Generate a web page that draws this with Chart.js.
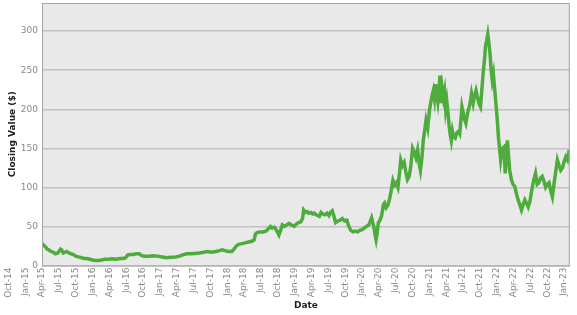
<!DOCTYPE html>
<html>
<head>
<meta charset="utf-8">
<script src="https://cdn.jsdelivr.net/npm/chart.js@4"></script>
<style>
  html, body { margin: 0; padding: 0; background: #fff; }
  #wrap { width: 577px; height: 315px; }
</style>
</head>
<body>
<div id="wrap"><canvas id="chart"></canvas></div>
<script>
// --- DATA ---
// x position = months after Oct 2014 (Oct-14 = 0, Jan-15 = 3, ...)
const monthIndex = [
  6.0, 6.3, 6.6, 6.9, 7.2, 7.6, 8.0, 8.4, 8.8, 9.1, 9.3, 9.5, 9.8, 10.1, 10.4, 10.8, 11.2, 11.6, 12.0, 12.5,
  13.0, 13.5, 14.0, 14.5, 15.0, 15.5, 16.0, 16.6, 17.2, 17.8, 18.5, 19.2, 19.9, 20.5, 20.9, 21.2, 21.6, 22.2, 22.8, 23.3,
  23.7, 24.2, 25.0, 25.8, 26.6, 27.4, 28.2, 29.0, 29.8, 30.5, 31.2, 31.8, 32.5, 33.2,
  34.0, 34.8, 35.5, 36.2, 37.0, 37.6, 38.1, 38.6, 39.2, 39.8, 40.2, 40.6, 41.0, 41.6, 42.2, 42.8, 43.4, 43.8, 44.0, 44.3,
  44.8, 45.3, 45.9, 46.3, 46.7, 47.0, 47.4, 47.7, 48.0, 48.2, 48.5, 48.8, 49.2, 49.6, 50.0, 50.4, 50.9, 51.3, 51.7, 52.1, 52.4,
  52.6, 52.9, 53.2, 53.5, 53.9, 54.2, 54.5, 54.8, 55.1, 55.4, 55.7, 56.0, 56.4, 56.8, 57.1, 57.4, 57.7, 58.0, 58.3, 58.7,
  59.1, 59.5, 59.9, 60.3, 60.6, 61.0, 61.4, 61.8, 62.2, 62.6, 63.0, 63.4, 63.8, 64.2, 64.5, 64.7, 64.9, 65.1, 65.3, 65.5, 65.7, 65.9,
  66.2, 66.5, 66.8, 67.0, 67.3, 67.6, 67.9, 68.2, 68.5, 68.8, 69.1, 69.4, 69.7, 69.9, 70.2, 70.5, 70.8, 71.1, 71.4, 71.7,
  72.0, 72.3, 72.6, 72.9, 73.2, 73.4, 73.7, 73.9, 74.2, 74.4, 74.7, 75.0, 75.2, 75.5, 75.7, 75.9, 76.1, 76.3, 76.5, 76.7,
  76.9, 77.1, 77.3, 77.5, 77.7, 77.9, 78.1, 78.3, 78.5, 78.7, 78.9, 79.1, 79.3, 79.6, 79.9, 80.2, 80.4,
  80.6, 80.8, 81.0, 81.2, 81.5, 81.8, 82.1, 82.3, 82.5, 82.8, 83.0, 83.3, 83.6, 83.9, 84.1, 84.4, 84.6, 84.8, 85.0, 85.2,
  85.4, 85.6, 85.8, 86.0, 86.2, 86.4, 86.6, 86.9, 87.1, 87.3,
  87.5, 87.7, 88.0, 88.3, 88.5, 88.7, 88.9, 89.1, 89.3, 89.6, 89.9, 90.2, 90.5, 90.8, 91.1, 91.4, 91.7, 92.0, 92.3, 92.6,
  92.9, 93.2, 93.6, 93.9, 94.2, 94.5, 94.8, 95.1, 95.4, 95.7, 96.0, 96.3, 96.6, 96.9, 97.2, 97.5, 97.8, 98.1, 98.4, 98.7,
  99.0, 99.3, 99.6, 99.9
];

const closingValue = [
  28, 26, 24, 21, 20, 18, 17, 15, 16, 19, 21, 20, 16, 17, 18, 16, 15, 14, 12, 11,
  10, 9, 9, 8, 7, 6.5, 6.5, 7, 8, 8, 8.5, 8, 9, 9, 10, 13, 14, 14, 15, 15,
  13, 12, 12, 12.5, 12, 11, 10, 10.5, 11, 12, 14, 15, 15, 15.5,
  16, 17, 18, 17, 18, 19, 20, 19, 18, 18, 21, 25, 27, 28, 29, 30, 31, 33, 40, 42,
  43, 43, 44, 47, 50, 48, 49, 46, 42, 39, 45, 52, 50, 52, 54, 52, 50, 53, 55, 56, 60,
  71, 68, 69, 67, 68, 66, 67, 65, 64, 63, 68, 66, 65, 67, 64, 68, 70, 63, 55, 57,
  58, 60, 57, 58, 51, 45, 43, 44, 43, 45, 46, 48, 50, 52, 57, 61, 55, 50, 40, 33, 42, 55,
  58, 64, 78, 80, 74, 77, 85, 96, 109, 103, 106, 100, 120, 135, 128, 132, 120, 110, 114, 128,
  150, 145, 138, 148, 130, 122, 140, 160, 175, 186, 176, 198, 207, 218, 224, 214, 232, 220, 210, 225,
  243, 208, 226, 215, 223, 200, 210, 196, 180, 168, 160, 172, 165, 163, 170, 172, 169,
  185, 203, 196, 188, 182, 195, 203, 210, 220, 208, 216, 224, 214, 206, 203, 230, 249, 262, 281, 288,
  296, 285, 271, 250, 237, 245, 228, 203, 185, 164,
  150, 135, 150, 152, 118, 140, 160, 140, 122, 110, 104, 101, 92, 84, 78, 71, 78, 84, 80, 75,
  82, 95, 110, 118, 104, 106, 112, 114, 108, 100, 104, 106, 96, 88, 105, 120, 135, 128, 122, 125,
  133, 139, 135, 148
];

const xTickMonths = [0, 3, 6, 9, 12, 15, 18, 21, 24, 27, 30, 33, 36, 39, 42, 45, 48, 51, 54, 57, 60,
  63, 66, 69, 72, 75, 78, 81, 84, 87, 90, 93, 96, 99];
const xTickLabels = ['Oct-14', 'Jan-15', 'Apr-15', 'Jul-15', 'Oct-15', 'Jan-16', 'Apr-16', 'Jul-16', 'Oct-16',
  'Jan-17', 'Apr-17', 'Jul-17', 'Oct-17', 'Jan-18', 'Apr-18', 'Jul-18', 'Oct-18', 'Jan-19', 'Apr-19', 'Jul-19',
  'Oct-19', 'Jan-20', 'Apr-20', 'Jul-20', 'Oct-20', 'Jan-21', 'Apr-21', 'Jul-21', 'Oct-21', 'Jan-22', 'Apr-22',
  'Jul-22', 'Oct-22', 'Jan-23'];
const yTicks = [0, 50, 100, 150, 200, 250, 300];

// --- CHART ---
const points = monthIndex.map((m, i) => ({ x: m, y: closingValue[i] }));

// grey plot background + frame
const plotFrame = {
  id: 'plotFrame',
  beforeDraw(chart) {
    const { ctx, chartArea: a } = chart;
    ctx.save();
    ctx.fillStyle = '#e9e9e9';
    ctx.fillRect(a.left, a.top, a.right - a.left, a.bottom - a.top);
    ctx.restore();
  },
  afterDraw(chart) {
    const { ctx, chartArea: a } = chart;
    ctx.save();
    ctx.strokeStyle = '#a6a6a6';
    ctx.lineWidth = 1;
    ctx.strokeRect(a.left + 0.5, a.top + 0.5, a.right - a.left - 1, a.bottom - a.top);
    ctx.restore();
  }
};

const font = 'DejaVu Sans';

new Chart(document.getElementById('chart'), {
  type: 'line',
  data: {
    datasets: [{
      label: 'Closing Value',
      data: points,
      borderColor: '#4dac3b',
      borderWidth: 3.5,
      pointRadius: 0,
      tension: 0,
      fill: false
    }]
  },
  options: {
    responsive: true,
    maintainAspectRatio: false,
    animation: false,
    layout: { padding: { left: 0, right: 5, top: 3, bottom: 0 } },
    plugins: { legend: { display: false }, tooltip: { enabled: false } },
    scales: {
      x: {
        type: 'linear',
        min: 6,
        max: 100,
        afterBuildTicks: s => { s.ticks = xTickMonths.map(v => ({ value: v })); },
        afterFit: s => { s.height = 49.5; },
        grid: { display: false, drawTicks: false },
        border: { display: false },
        ticks: {
          autoSkip: false,
          minRotation: 90,
          maxRotation: 90,
          padding: 2,
          color: '#888',
          font: { family: font, size: 9 },
          callback: v => xTickLabels[xTickMonths.indexOf(v)]
        },
        title: {
          display: true,
          text: 'Date',
          color: '#222',
          font: { family: font, size: 9, weight: 'bold' },
          padding: { top: 2, bottom: 3.6 }
        }
      },
      y: {
        min: 0,
        max: 336,
        afterBuildTicks: s => { s.ticks = yTicks.map(v => ({ value: v })); },
        afterFit: s => { s.width = 42; s.paddingTop = 0; s.paddingBottom = 0; },
        grid: { color: '#c2c2c2', lineWidth: 1.5, drawTicks: false },
        border: { display: false },
        ticks: {
          padding: 4,
          color: '#888',
          font: { family: font, size: 9 }
        },
        title: {
          display: true,
          text: 'Closing Value ($)',
          color: '#222',
          font: { family: font, size: 9, weight: 'bold' },
          padding: { top: 7.6, bottom: 2.4 }
        }
      }
    }
  },
  plugins: [plotFrame]
});
</script>
</body>
</html>
